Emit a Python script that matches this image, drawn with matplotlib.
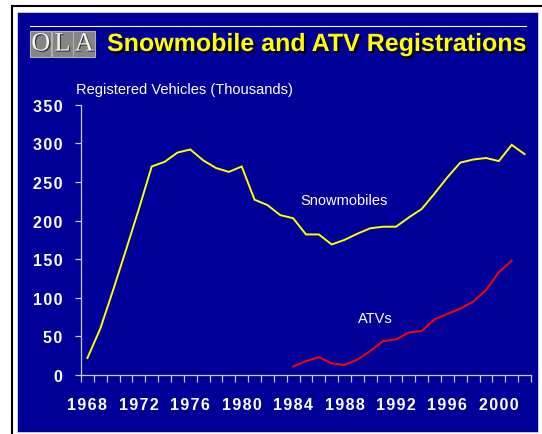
import matplotlib.pyplot as plt
import matplotlib.patches as patches
import matplotlib.patheffects as pe

# data (thousands of registered vehicles)
years = list(range(1968, 2003))
snowmobiles = [22, 60, 110, 162, 215, 270, 276, 288, 292, 278, 268, 263, 270,
               227, 220, 207, 203, 182, 182, 169, 175, 183, 190, 192, 192,
               204, 215, 235, 256, 275, 279, 281, 277, 298, 286]
atv_years = list(range(1984, 2002))
atvs = [11, 18, 23, 15, 13, 20, 31, 44, 46, 55, 57, 72, 79, 86, 95, 110, 133, 148]
label_years = [1968, 1972, 1976, 1980, 1984, 1988, 1992, 1996, 2000]
yticks = [0, 50, 100, 150, 200, 250, 300, 350]

W, H = 542, 435
BLUE = '#000099'
AXC = '#c8c8f0'

def spaced(s):
    # tick digits are letter-spaced in the original
    return '\u200a'.join(s)

fig = plt.figure(figsize=(W / 100, H / 100), dpi=100)
fig.patch.set_facecolor('white')

# frame: black border lines + blue panel (behind the axes)
fig.add_artist(plt.Line2D([11.5 / W, 1], [1 - 6.5 / H] * 2, color='black', lw=1.5, zorder=-10))
fig.add_artist(plt.Line2D([11.5 / W] * 2, [0, 1 - 6.5 / H], color='black', lw=1.5, zorder=-10))
fig.add_artist(patches.Rectangle((17 / W, 2 / H), (537.5 - 17) / W, (433 - 13) / H,
                                 facecolor=BLUE, edgecolor='#d8d8c8', lw=0.6, zorder=-9))
fig.add_artist(plt.Line2D([30 / W, 526 / W], [1 - 27 / H] * 2, color='white', lw=0.8))

# OLA logo boxes
for i, ch in enumerate('OLA'):
    x0 = 30 + i * 21.7
    fig.add_artist(patches.Rectangle((x0 / W, 1 - 58 / H), 21.2 / W, 26 / H,
                                     facecolor='#858585', edgecolor='#b0b0b0', lw=0.8))
    fig.text((x0 + 10.8) / W, 1 - 45.5 / H, ch, color='#f4f4f4', fontsize=19,
             family='Liberation Serif', ha='center', va='center',
             path_effects=[pe.withSimplePatchShadow(offset=(0.8, -0.8), shadow_rgbFace='#303030', alpha=1)])

# title with shadow
fig.text(107 / W, 1 - 45 / H, 'Snowmobile and ATV Registrations', color='#ffff00',
         fontsize=18, fontweight='bold', family='Liberation Sans', ha='left', va='center',
         path_effects=[pe.withSimplePatchShadow(offset=(1.6, -1.6), shadow_rgbFace='black', alpha=1)])

fig.text(76 / W, 1 - 90 / H, 'Registered Vehicles (Thousands)', color='white',
         fontsize=10.5, family='Liberation Sans', ha='left', va='center')

# plot area
ax = fig.add_axes([81 / W, (H - 376) / H, 450 / W, 270.3 / H])
ax.patch.set_alpha(0)

xs = [y - 1968 + 0.5 for y in years]
xa = [y - 1968 + 0.5 for y in atv_years]
ax.plot(xs, snowmobiles, color='#ffff00', lw=1.4, solid_joinstyle='miter')
ax.plot(xa, atvs, color='#ff0000', lw=1.4, solid_joinstyle='miter')

ax.text(20.45, 227, 'Snowmobiles', color='white', fontsize=10.5, family='Liberation Sans',
        ha='center', va='center')
ax.text(22.9, 74, 'ATVs', color='white', fontsize=10.5, family='Liberation Sans',
        ha='center', va='center')

ax.set_xlim(0, len(years))
ax.set_ylim(0, 350)

for s in ['top', 'right']:
    ax.spines[s].set_visible(False)
for s in ['left', 'bottom']:
    ax.spines[s].set_color(AXC)
    ax.spines[s].set_linewidth(0.9)

ax.set_xticks(range(len(years) + 1))
ax.set_xticklabels([])
ax.set_xticks([y - 1968 + 0.5 for y in label_years], minor=True)
ax.set_xticklabels([spaced(str(y)) for y in label_years], minor=True)
ax.tick_params(axis='x', which='major', direction='out', length=5, width=0.9, color=AXC)
ax.tick_params(axis='x', which='minor', length=0, pad=15.5, labelsize=11.5, labelcolor='white')

ax.set_yticks(yticks)
ax.set_yticklabels([spaced(str(v)) for v in yticks])
ax.tick_params(axis='y', direction='out', length=4.3, width=0.9, color=AXC,
               labelsize=11.5, labelcolor='white', pad=9)

for lab in ax.get_xticklabels(minor=True) + ax.get_yticklabels():
    lab.set_fontweight('bold')
    lab.set_family(['Liberation Sans', 'DejaVu Sans'])

fig.savefig('out.png', dpi=100, facecolor='white')
